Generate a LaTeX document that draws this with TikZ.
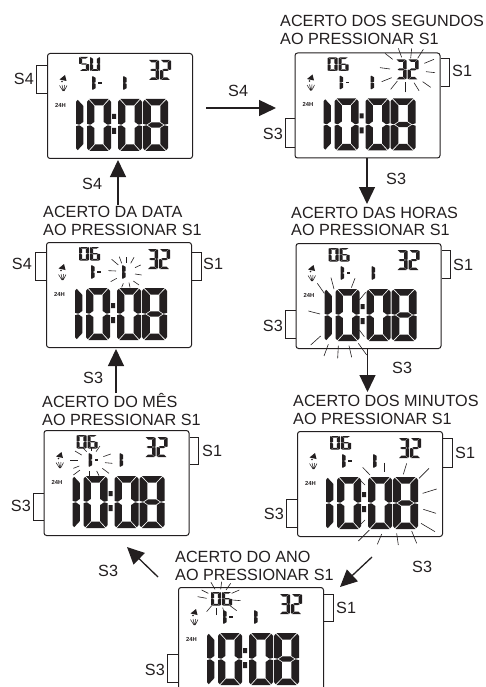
\documentclass[tikz,border=0pt]{standalone}
\usepackage{fontspec}
\setmainfont{Liberation Sans}
\usetikzlibrary{arrows.meta}
\definecolor{ink}{HTML}{231F20}
\tikzset{
  watchbox/.style={draw=ink,line width=1pt,rounded corners=2.6pt,minimum width=145pt,minimum height=105pt,anchor=north west,inner sep=0pt},
  btn/.style={draw=ink,line width=.9pt},
  lab/.style={inner sep=0pt,text=ink,font=\fontsize{16.2}{17}\selectfont,anchor=base west},
  labr/.style={lab,anchor=base east},
  ray/.style={draw=ink,line width=.6pt},
  arr/.style={draw=ink,line width=1.3pt,-{Triangle[length=17pt,width=16pt]}},
  hours/.style={font=\bfseries\fontsize{5.8}{6}\selectfont,text=ink,inner sep=0pt}
}
\def\segA{\fill[ink] (.1,0)--(.9,0)--(.66,.125)--(.34,.125)--cycle;}
\def\segD{\fill[ink] (.1,1)--(.9,1)--(.66,.875)--(.34,.875)--cycle;}
\def\segF{\fill[ink] (0,.055)--(.07,.015)--(.31,.135)--(.31,.44)--(.14,.495)--(0,.478)--cycle;}
\def\segE{\fill[ink] (0,.945)--(.07,.985)--(.31,.865)--(.31,.56)--(.14,.505)--(0,.522)--cycle;}
\def\segB{\fill[ink] (1,.055)--(.93,.015)--(.69,.135)--(.69,.44)--(.86,.495)--(1,.478)--cycle;}
\def\segC{\fill[ink] (1,.945)--(.93,.985)--(.69,.865)--(.69,.56)--(.86,.505)--(1,.522)--cycle;}
\def\segG{\fill[ink] (.19,.5)--(.34,.45)--(.66,.45)--(.81,.5)--(.66,.55)--(.34,.55)--cycle;}
\newcommand\Digit[5]{\begin{scope}[shift={(#1,#2)},x=#3pt,y=-#4pt]\foreach \s in {#5}{\csname seg\s\endcsname}\end{scope}}
\newcommand\Rays[3]{\begin{scope}[shift={(#1,#2)},x=.33333pt,y=-.33333pt]\foreach \a/\b/\c/\d in {#3}{\draw[ray] (\a,\b)--(\c,\d);}\end{scope}}
\newcommand\Face[4]{%
  \node[watchbox] (#3) at (#1,#2) {};
  \begin{scope}[shift={(#1,#2)}]
    \ifnum#4=1
      \Digit{32}{4}{10}{14}{A,F,G,C,D}\Digit{43}{4}{10}{14}{F,E,D,C,B}
    \else
      \Digit{33}{5}{10}{13.5}{A,B,C,D,E,F}\Digit{44}{5}{10}{13.5}{A,C,D,E,F,G}
    \fi
    \Digit{101}{7}{11}{20}{A,B,G,C,D}\Digit{113}{7}{11}{20}{A,B,G,E,D}
    \Digit{45}{23}{12}{14}{F,E}
    \fill[ink] (51,29.4) rectangle (54.5,31);
    \Digit{76}{23}{12}{14}{F,E}
    \fill[ink] (12.5,26.5)--(18,22)--(19.5,28)--cycle;
    \fill[ink] (15,28.5) circle (.8);
    \draw[ink,line width=.5pt] (12.5,32.5)--(16,38) (15,32)--(16.5,38) (17.5,32)--(17,38) (20,32.5)--(17.2,38);
    \node[hours] (#3h) at (13.5,52) {24H};
    \Digit{29}{46}{24}{52}{F,E}
    \Digit{40}{46}{24}{52}{A,B,C,D,E,F}
    \fill[ink] (65,61) rectangle (69,66) (65,75) rectangle (69,81);
    \Digit{71}{46}{24}{52}{A,B,C,D,E,F}
    \Digit{96}{46}{25}{52}{A,B,C,D,E,F,G}
  \end{scope}}
\begin{document}
\begin{tikzpicture}[x=1pt,y=-1pt]
\useasboundingbox (0,0) rectangle (485,687);
\clip (0,0) rectangle (485,687);
\fill[white] (0,0) rectangle (485,687);

% cases and faces
\Face{47}{53}{wa}{1}
\Face{294.5}{52.5}{wb}{0}
\Face{295.5}{243}{wc}{0}
\Face{297}{431}{wd}{0}
\Face{178}{587}{we}{0}
\Face{43.5}{430}{wf}{0}
\Face{46}{242}{wg}{0}

% buttons
\draw[btn] (wa.west |- 0,65) -- (36,65) -- (36,93) -- (wa.west |- 0,93);
\draw[btn] (wb.east |- 0,58) -- (449.5,58) -- (449.5,86) -- (wb.east |- 0,86);
\draw[btn] (wb.west |- 0,118) -- (285,118) -- (285,147) -- (wb.west |- 0,147);
\draw[btn] (wc.east |- 0,250) -- (450.5,250) -- (450.5,278) -- (wc.east |- 0,278);
\draw[btn] (wc.west |- 0,310) -- (285.5,310) -- (285.5,338) -- (wc.west |- 0,338);
\draw[btn] (wd.east |- 0,438) -- (452,438) -- (452,467) -- (wd.east |- 0,467);
\draw[btn] (wd.west |- 0,499) -- (286.5,499) -- (286.5,527) -- (wd.west |- 0,527);
\draw[btn] (we.east |- 0,594) -- (333,594) -- (333,621) -- (we.east |- 0,621);
\draw[btn] (we.west |- 0,654) -- (167.5,654) -- (167.5,682) -- (we.west |- 0,682);
\draw[btn] (wf.east |- 0,437) -- (198.5,437) -- (198.5,464) -- (wf.east |- 0,464);
\draw[btn] (wf.west |- 0,493) -- (33.5,493) -- (33.5,520) -- (wf.west |- 0,520);
\draw[btn] (wg.east |- 0,252) -- (201,252) -- (201,280) -- (wg.east |- 0,280);
\draw[btn] (wg.west |- 0,252) -- (35,252) -- (35,280) -- (wg.west |- 0,280);

% flashing rays
\Rays{270}{0}{345/160/368/178,385/145/395/172,425/145/422/175,460/148/443/175,492/178/463/190,495/218/468/215,482/262/458/245,447/272/432/248,405/277/405/247,362/268/382/243,335/245/365/233,330/203/360/207}
\Rays{275}{205}{127/235/148/265,168/218/177/252,240/220/229/248,272/262/253/285,100/318/135/327,137/393/107/420,160/418/147/453,190/422/188/460,222/422/230/457,250/415/275/450,253/375/268/395}
\Rays{270}{380}{278/262/300/285,342/248/342/277,410/250/400/283,477/265/447/295,500/327/458/340,498/400/460/388,495/455/453/430,425/453/440/490,380/460/385/495,335/462/322/493,298/450/265/483,285/420/272/433,272/302/285/315}
\Rays{100}{540}{333/127/345/148,365/125/362/148,392/130/378/150,418/150/395/160,422/182/397/180,410/212/390/197,375/225/368/203,350/225/350/205,320/215/335/197,293/170/320/175,305/150/325/160}
\Rays{20}{385}{165/198/185/210,190/190/200/200,215/187/215/197,240/183/228/200,272/207/250/215,277/235/255/233,267/265/247/250,237/272/230/258,207/272/207/258,160/270/180/255,160/250/178/243,150/225/175/225}
\Rays{20}{200}{275/178/295/195,298/170/305/190,320/172/320/188,342/172/332/190,362/195/345/203,365/225/345/222,357/255/340/243,330/262/327/248,305/262/310/250,272/245/290/235,265/212/288/213}

% heading labels
\node[lab] (tb1) at (280,27) {ACERTO DOS SEGUNDOS};
\node[lab] (tb2) at (280,44.5) {AO PRESSIONAR S1};
\node[lab] (tc1) at (291,218) {ACERTO DAS HORAS};
\node[lab] (tc2) at (291,235.5) {AO PRESSIONAR S1};
\node[lab] (td1) at (293,406) {ACERTO DOS MINUTOS};
\node[lab] (td2) at (293,424) {AO PRESSIONAR S1};
\node[lab] (tg1) at (43,217) {ACERTO DA DATA};
\node[lab] (tg2) at (43,235) {AO PRESSIONAR S1};
\node[lab] (tf1) at (42,407) {ACERTO DO MÊS};
\node[lab] (tf2) at (42,425) {AO PRESSIONAR S1};
\node[lab] (te1) at (175,562) {ACERTO DO ANO};
\node[lab] (te2) at (175,580) {AO PRESSIONAR S1};

% button labels
\node[labr] (sa4) at (34,85) {S4};
\node[lab] (sb1) at (452,77) {S1};
\node[labr] (sb3) at (283,140) {S3};
\node[lab] (sc1) at (453,270) {S1};
\node[labr] (sc3) at (283,331) {S3};
\node[lab] (sd1) at (455,458) {S1};
\node[labr] (sd3) at (284,519) {S3};
\node[lab] (se1) at (336,613) {S1};
\node[labr] (se3) at (165,675) {S3};
\node[lab] (sf1) at (202,456) {S1};
\node[labr] (sf3) at (31,511) {S3};
\node[lab] (sg1) at (203,269) {S1};
\node[labr] (sg4) at (32,269) {S4};

% connectors
\coordinate (p1) at (206,108);
\coordinate (q1) at (276,108);
\draw[arr] (p1) -- (q1);
\node[lab] (a1) at (228,97) {S4};
\coordinate (q2) at (367,204);
\draw[arr] (wb.south -| q2) -- (q2);
\node[lab] (a2) at (386,184) {S3};
\coordinate (q3) at (367.5,392);
\draw[arr] (wc.south -| q3) -- (q3);
\node[lab] (a3) at (392,373) {S3};
\coordinate (p4) at (372,557);
\coordinate (q4) at (340,587);
\draw[arr] (p4) -- (q4);
\node[lab] (a4) at (412,572) {S3};
\coordinate (p5) at (158,577);
\coordinate (q5) at (127,547);
\draw[arr] (p5) -- (q5);
\node[lab] (a5) at (98,576) {S3};
\coordinate (p6) at (116,393);
\coordinate (q6) at (116,349);
\draw[arr] (p6) -- (q6);
\node[lab] (a6) at (83,383) {S3};
\coordinate (p7) at (118,205);
\coordinate (q7) at (118,160);
\draw[arr] (p7) -- (q7);
\node[lab] (a7) at (82,189) {S4};
\end{tikzpicture}
\end{document}
